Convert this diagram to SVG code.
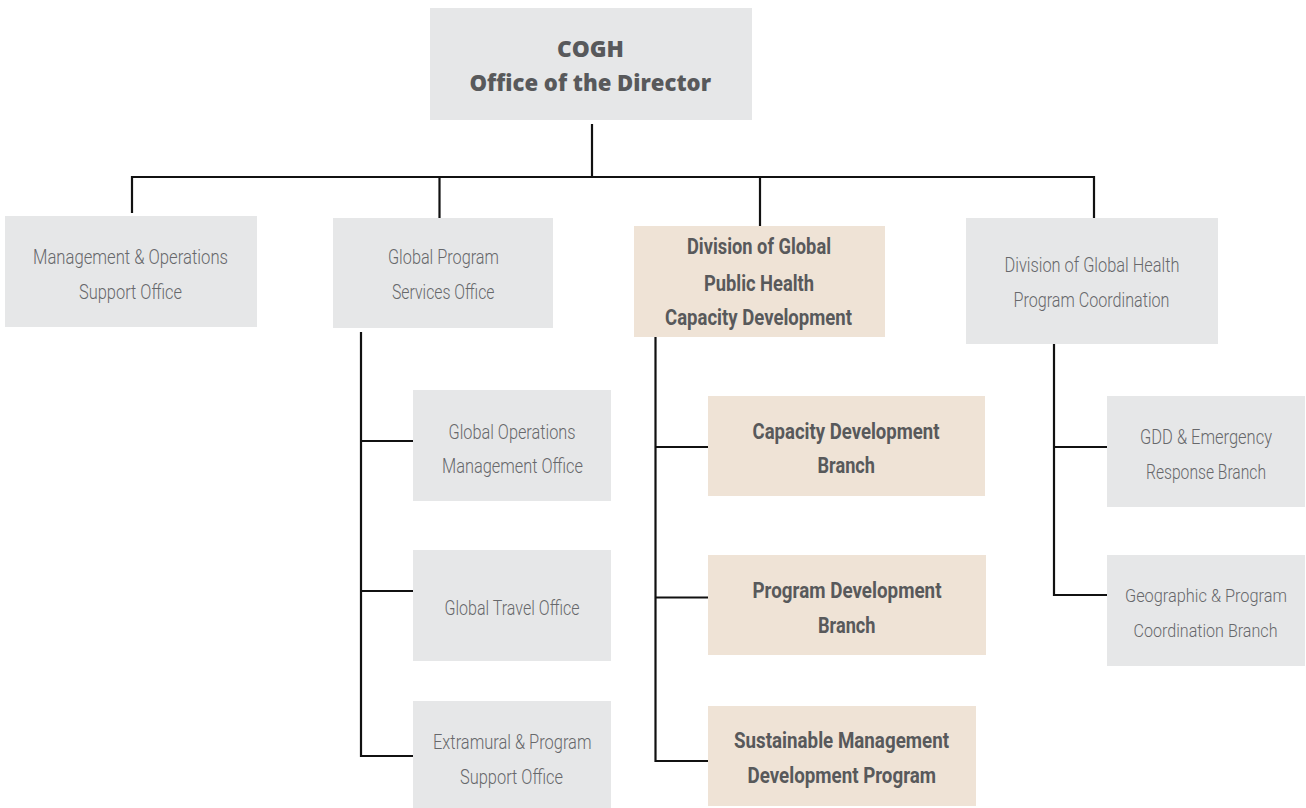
<svg xmlns="http://www.w3.org/2000/svg" width="1306" height="808" viewBox="0 0 1306 808">
  <style>
    .box-gray { fill: #e6e7e8; }
    .box-tan { fill: #efe3d6; }
    .lbl { font-family: Roboto, "Liberation Sans", sans-serif; font-weight: 300; font-size: 20px; fill: #67686b; }
    .lbl-b { font-family: Roboto, "Liberation Sans", sans-serif; font-weight: 700; font-size: 21.5px; fill: #58595b; }
    .lbl-t { font-family: "Open Sans", "Liberation Sans", sans-serif; font-weight: 800; font-size: 23px; fill: #58595b; }
    .mid { text-anchor: middle; }
    .sm { font-size: 18.5px; }
    .wire { fill: none; stroke: #111; stroke-width: 2.2; }
  </style>
  <rect width="1306" height="808" fill="#ffffff"/>

  <!-- connectors -->
  <g id="connectors">
    <path class="wire" d="M592 124 V177"/>
    <path class="wire" d="M132 213 V177 H1094 V218"/>
    <path class="wire" d="M439.5 177 V218"/>
    <path class="wire" d="M760 177 V226"/>
    <path class="wire" d="M361 332 V756 H413"/>
    <path class="wire" d="M361 441 H413"/>
    <path class="wire" d="M361 591 H413"/>
    <path class="wire" d="M655.5 337 V761 H708"/>
    <path class="wire" d="M655.5 447 H708"/>
    <path class="wire" d="M655.5 597.5 H708"/>
    <path class="wire" d="M1054 344 V595 H1107"/>
    <path class="wire" d="M1054 447 H1107"/>
  </g>

  <!-- director -->
  <g id="office-director">
    <rect class="box-gray" x="430" y="8" width="322" height="112"/>
    <text class="lbl-t" x="557" y="56.5" textLength="67" lengthAdjust="spacingAndGlyphs">COGH</text>
    <text class="lbl-t" x="469.5" y="90.5" textLength="241.5" lengthAdjust="spacingAndGlyphs">Office of the Director</text>
  </g>

  <!-- first level -->
  <g id="mgmt-ops-support">
    <rect class="box-gray" x="5" y="216" width="252" height="111"/>
    <text class="lbl" x="33" y="264" textLength="195" lengthAdjust="spacingAndGlyphs">Management &amp; Operations</text>
    <text class="lbl" x="79" y="299" textLength="103" lengthAdjust="spacingAndGlyphs">Support Office</text>
  </g>

  <g id="global-program-services">
    <rect class="box-gray" x="333" y="218" width="220" height="110"/>
    <text class="lbl" x="388" y="264" textLength="111" lengthAdjust="spacingAndGlyphs">Global Program</text>
    <text class="lbl" x="392" y="299" textLength="102.5" lengthAdjust="spacingAndGlyphs">Services Office</text>
  </g>

  <g id="dgphcd">
    <rect class="box-tan" x="634" y="226" width="251" height="111"/>
    <text class="lbl-b" x="687" y="253.5" textLength="144" lengthAdjust="spacingAndGlyphs">Division of Global</text>
    <text class="lbl-b" x="704" y="290.5" textLength="110" lengthAdjust="spacingAndGlyphs">Public Health</text>
    <text class="lbl-b" x="665" y="324.5" textLength="187" lengthAdjust="spacingAndGlyphs">Capacity Development</text>
  </g>

  <g id="dghpc">
    <rect class="box-gray" x="966" y="218" width="252" height="126"/>
    <text class="lbl" x="1004.5" y="271.5" textLength="175" lengthAdjust="spacingAndGlyphs">Division of Global Health</text>
    <text class="lbl" x="1013.5" y="307" textLength="156" lengthAdjust="spacingAndGlyphs">Program Coordination</text>
  </g>

  <!-- under Global Program Services Office -->
  <g id="global-ops-mgmt">
    <rect class="box-gray" x="413" y="390" width="198" height="111"/>
    <text class="lbl" x="448.5" y="438.5" textLength="127" lengthAdjust="spacingAndGlyphs">Global Operations</text>
    <text class="lbl" x="442" y="473" textLength="141" lengthAdjust="spacingAndGlyphs">Management Office</text>
  </g>

  <g id="global-travel">
    <rect class="box-gray" x="413" y="550" width="198" height="111"/>
    <text class="lbl" x="444.5" y="614.5" textLength="135" lengthAdjust="spacingAndGlyphs">Global Travel Office</text>
  </g>

  <g id="extramural-support">
    <rect class="box-gray" x="413" y="701" width="198" height="107"/>
    <text class="lbl" x="433" y="748.5" textLength="158.5" lengthAdjust="spacingAndGlyphs">Extramural &amp; Program</text>
    <text class="lbl" x="460" y="783.5" textLength="103" lengthAdjust="spacingAndGlyphs">Support Office</text>
  </g>

  <!-- under Division of Global Public Health Capacity Development -->
  <g id="capacity-dev-branch">
    <rect class="box-tan" x="708" y="396" width="277" height="100"/>
    <text class="lbl-b" x="752.5" y="438.5" textLength="187" lengthAdjust="spacingAndGlyphs">Capacity Development</text>
    <text class="lbl-b" x="817.5" y="473" textLength="57.5" lengthAdjust="spacingAndGlyphs">Branch</text>
  </g>

  <g id="program-dev-branch">
    <rect class="box-tan" x="708" y="555" width="278" height="100"/>
    <text class="lbl-b" x="752.5" y="598" textLength="189" lengthAdjust="spacingAndGlyphs">Program Development</text>
    <text class="lbl-b" x="818" y="632.5" textLength="57.5" lengthAdjust="spacingAndGlyphs">Branch</text>
  </g>

  <g id="smdp">
    <rect class="box-tan" x="708" y="706" width="268" height="100"/>
    <text class="lbl-b" x="734" y="748" textLength="215" lengthAdjust="spacingAndGlyphs">Sustainable Management</text>
    <text class="lbl-b" x="747.5" y="782.5" textLength="188.5" lengthAdjust="spacingAndGlyphs">Development Program</text>
  </g>

  <!-- under Division of Global Health Program Coordination -->
  <g id="gdd-emergency">
    <rect class="box-gray" x="1107" y="396" width="198" height="111"/>
    <text class="lbl mid" x="1206" y="443.5" textLength="132" lengthAdjust="spacingAndGlyphs">GDD &amp; Emergency</text>
    <text class="lbl mid" x="1206" y="478.5" textLength="120" lengthAdjust="spacingAndGlyphs">Response Branch</text>
  </g>

  <g id="geo-program-coord">
    <rect class="box-gray" x="1107" y="555" width="198" height="111"/>
    <text class="lbl mid sm" x="1206" y="602" textLength="162" lengthAdjust="spacingAndGlyphs">Geographic &amp; Program</text>
    <text class="lbl mid sm" x="1205.5" y="637" textLength="144" lengthAdjust="spacingAndGlyphs">Coordination Branch</text>
  </g>
</svg>
